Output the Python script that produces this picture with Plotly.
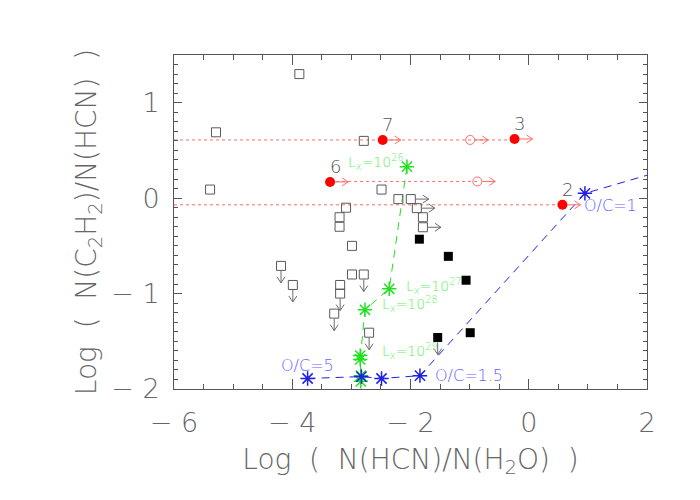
import plotly.graph_objects as go

# ---------------- data ----------------
# open squares: detections
det_x = [-3.88, -5.29, -5.39, -2.79, -2.49, -2.205, -3.09, -3.20, -3.20, -2.99, -2.99, -3.19, -1.79]
det_y = [1.30, 0.69, 0.09, 0.60, 0.09, -0.01, -0.10, -0.20, -0.30, -0.50, -0.80, -0.91, -0.20]
# open squares: lower limits in x (arrow right)
low_x = [-1.995, -1.893, -1.79]
low_y = [-0.01, -0.105, -0.305]
# open squares: upper limits in y (arrow down)
up_x = [-4.19, -3.99, -2.79, -3.19, -3.29, -2.70]
up_y = [-0.71, -0.91, -0.80, -1.00, -1.21, -1.41]
# filled squares
fill_x = [-1.85, -1.36, -1.06, -0.99, -1.54]
fill_y = [-0.43, -0.61, -0.86, -1.41, -1.46]
fill_up_x = [-1.54]
fill_up_y = [-1.46]
# red filled circles (numbered sources) with lower limits
red_x = [-2.47, -3.36, -0.24, 0.57]
red_y = [0.61, 0.17, 0.62, -0.07]
red_lbl = ["7", "6", "3", "2"]
# red open circles
ropen_x = [-0.99, -0.87]
ropen_y = [0.61, 0.175]
# red dotted connectors
dot_x0 = [-6.0, -3.36, -6.0]
dot_x1 = [-0.24, -0.87, 0.57]
dot_y = [0.61, 0.175, -0.07]
# green model track (X-ray luminosity)
grn_x = [-2.06, -2.36, -2.77, -2.85, -2.85, -2.84, -2.84]
grn_y = [0.33, -0.95, -1.17, -1.65, -1.69, -1.86, -1.92]
grn_lbl = ["L<sub>x</sub>=10<sup>26</sup>", "L<sub>x</sub>=10<sup>27</sup>",
           "L<sub>x</sub>=10<sup>28</sup>", "L<sub>x</sub>=10<sup>29</sup>"]
# blue model track (O/C ratio)
blu_x = [-3.74, -2.83, -2.49, -1.84, 0.95]
blu_y = [-1.89, -1.87, -1.89, -1.86, 0.05]
blu_end_x = [2.0]
blu_end_y = [0.24]
x_ticks = [-6, -4, -2, 0, 2]
x_tick_text = ["\u2212 6", "\u2212 4", "\u2212 2", "0", "2"]
y_ticks = [-2, -1, 0, 1]
y_tick_text = ["\u2212 2", "\u2212 1", "0", "1"]

# ---------------- geometry helpers ----------------
XR = [-6, 2]
YR = [-2, 1.5]
OFF = 8  # page body margin
ML, MR, MT, MB = 174 - OFF, 53 + OFF, 55 - OFF, 111 + OFF
PW = 700 - ML - MR
PH = 500 - MT - MB
pxx = PW / (XR[1] - XR[0])
pxy = PH / (YR[1] - YR[0])


def right_arrows(xs, ys, start=5, length=18, head=6, hw=4):
    ax, ay = [], []
    for x, y in zip(xs, ys):
        tip = x + length / pxx
        ax += [x + start / pxx, tip, None, tip - head / pxx, tip, tip - head / pxx, None]
        ay += [y, y, None, y + hw / pxy, y, y - hw / pxy, None]
    return ax, ay


def down_arrows(xs, ys, start=5, length=17, head=6, hw=4):
    ax, ay = [], []
    for x, y in zip(xs, ys):
        tip = y - length / pxy
        ax += [x, x, None, x - hw / pxx, x, x + hw / pxx, None]
        ay += [y - start / pxy, tip, None, tip + head / pxy, tip, tip + head / pxy, None]
    return ax, ay


GRAY = "#5a5a5a"
RED = "#ff0000"
LRED = "#ff6b6b"
GREEN = "#22e022"
LGREEN = "#66ee66"
BLUE = "#1f1fe6"
LBLUE = "#6464ff"
FONT = "DejaVu Sans"
NB = "\u00a0"

fig = go.Figure()

# red dotted lines
dx, dy = [], []
for a, b, y in zip(dot_x0, dot_x1, dot_y):
    dx += [a, b, None]
    dy += [y, y, None]
fig.add_trace(go.Scatter(x=dx, y=dy, mode="lines", line=dict(color=LRED, width=1, dash="dot"),
                         hoverinfo="skip"))

# green track
fig.add_trace(go.Scatter(x=grn_x, y=grn_y, mode="lines+markers",
                         line=dict(color=GREEN, width=1, dash="8px,6px"),
                         marker=dict(symbol="asterisk-open", size=12, color=GREEN,
                                     line=dict(color=GREEN, width=1.5))))
# blue track
fig.add_trace(go.Scatter(x=blu_x + blu_end_x, y=blu_y + blu_end_y, mode="lines",
                         line=dict(color=BLUE, width=1, dash="8px,6px")))
fig.add_trace(go.Scatter(x=blu_x, y=blu_y, mode="markers",
                         marker=dict(symbol="asterisk-open", size=12, color=BLUE,
                                     line=dict(color=BLUE, width=1.5))))

# arrows (gray)
ax1, ay1 = right_arrows(low_x, low_y)
ax2, ay2 = down_arrows(up_x + fill_up_x, up_y + fill_up_y)
fig.add_trace(go.Scatter(x=ax1 + ax2, y=ay1 + ay2, mode="lines",
                         line=dict(color="#6a6a6a", width=1)))
# arrows (red)
ax3, ay3 = right_arrows(red_x + ropen_x, red_y + ropen_y)
fig.add_trace(go.Scatter(x=ax3, y=ay3, mode="lines", line=dict(color=LRED, width=1)))

# open squares
fig.add_trace(go.Scatter(x=det_x + low_x + up_x, y=det_y + low_y + up_y, mode="markers",
                         marker=dict(symbol="square-open", size=9, color=GRAY,
                                     line=dict(color=GRAY, width=1))))
# filled squares
fig.add_trace(go.Scatter(x=fill_x, y=fill_y, mode="markers",
                         marker=dict(symbol="square", size=9, color="black")))
# red circles
fig.add_trace(go.Scatter(x=red_x, y=red_y, mode="markers",
                         marker=dict(symbol="circle", size=10, color=RED)))
fig.add_trace(go.Scatter(x=ropen_x, y=ropen_y, mode="markers",
                         marker=dict(symbol="circle-open", size=9, color=LRED,
                                     line=dict(color=LRED, width=1))))

# dummy trace to carry the mirrored (top / right) axes with minor ticks
fig.add_trace(go.Scatter(x=XR, y=YR, xaxis="x2", yaxis="y2", mode="markers",
                         marker=dict(opacity=0), hoverinfo="skip"))

ann = []
for x, y, t in zip(red_x, red_y, red_lbl):
    ann.append(dict(x=x, y=y, text=t, showarrow=False, xshift=5, yshift=15,
                    font=dict(family=FONT, size=18, color="#555555", weight=200)))
# green labels
gpos = [(0, "right", -1, 5), (1, "left", 15, 3), (2, "left", 15, 6), (3, "left", 20, 5)]
for (i, anc, xs, ys), t in zip(gpos, grn_lbl):
    ann.append(dict(x=grn_x[i], y=grn_y[i], text=t, showarrow=False, xanchor=anc,
                    xshift=xs, yshift=ys, font=dict(family=FONT, size=14, color=LGREEN, weight=200)))
# blue labels
ann.append(dict(x=blu_x[0], y=blu_y[0], text="O/C=5", showarrow=False, xanchor="center",
                yshift=13, font=dict(family=FONT, size=16, color=LBLUE, weight=200)))
ann.append(dict(x=blu_x[3], y=blu_y[3], text="O/C=1.5", showarrow=False, xanchor="left",
                xshift=13, font=dict(family=FONT, size=16, color=LBLUE, weight=200)))
ann.append(dict(x=blu_x[4], y=blu_y[4], text="O/C=1", showarrow=False, xanchor="left",
                xshift=-3, yshift=-12, font=dict(family=FONT, size=16, color=LBLUE, weight=200)))

axcol = "#555555"
tf = dict(family=FONT, size=27, color="#666666", weight=200)
ttf = dict(family=FONT, size=28, color="#666666", weight=200)
S2 = NB + NB
fig.update_layout(
    width=700, height=500,
    margin=dict(l=ML, r=MR, t=MT, b=MB),
    paper_bgcolor="white", plot_bgcolor="white",
    showlegend=False,
    annotations=ann,
    font=dict(family=FONT, color=axcol),
    xaxis=dict(range=XR, tickvals=x_ticks, ticktext=x_tick_text,
               showgrid=False, zeroline=False, showline=True, linecolor=axcol, linewidth=1,
               ticks="inside", ticklen=10, tickcolor=axcol,
               ticklabelstandoff=10,
               minor=dict(dtick=0.5, ticks="inside", ticklen=5, tickcolor=axcol, showgrid=False),
               tickfont=tf,
               title=dict(text=f"Log{S2}({S2}N(HCN)/N(H<sub>2</sub>O){S2})", standoff=11, font=ttf)),
    yaxis=dict(range=YR, tickvals=y_ticks, ticktext=y_tick_text,
               showgrid=False, zeroline=False, showline=True, linecolor=axcol, linewidth=1,
               ticks="inside", ticklen=8, tickcolor=axcol,
               ticklabelstandoff=8,
               minor=dict(dtick=0.1, ticks="inside", ticklen=4, tickcolor=axcol, showgrid=False),
               tickfont=tf,
               title=dict(text=f"Log{S2}({S2}N(C<sub>2</sub>H<sub>2</sub>)/N(HCN){S2})", standoff=6, font=ttf)),
    xaxis2=dict(range=XR, overlaying="x", side="top", anchor="y", tickvals=x_ticks,
                showticklabels=False, showgrid=False, zeroline=False, showline=True,
                linecolor=axcol, ticks="inside", ticklen=10, tickcolor=axcol,
                minor=dict(dtick=0.5, ticks="inside", ticklen=5, tickcolor=axcol, showgrid=False)),
    yaxis2=dict(range=YR, overlaying="y", side="right", anchor="x", tickvals=y_ticks,
                showticklabels=False, showgrid=False, zeroline=False, showline=True,
                linecolor=axcol, ticks="inside", ticklen=8, tickcolor=axcol,
                minor=dict(dtick=0.1, ticks="inside", ticklen=4, tickcolor=axcol, showgrid=False)),
)

fig.write_html("out.html")
